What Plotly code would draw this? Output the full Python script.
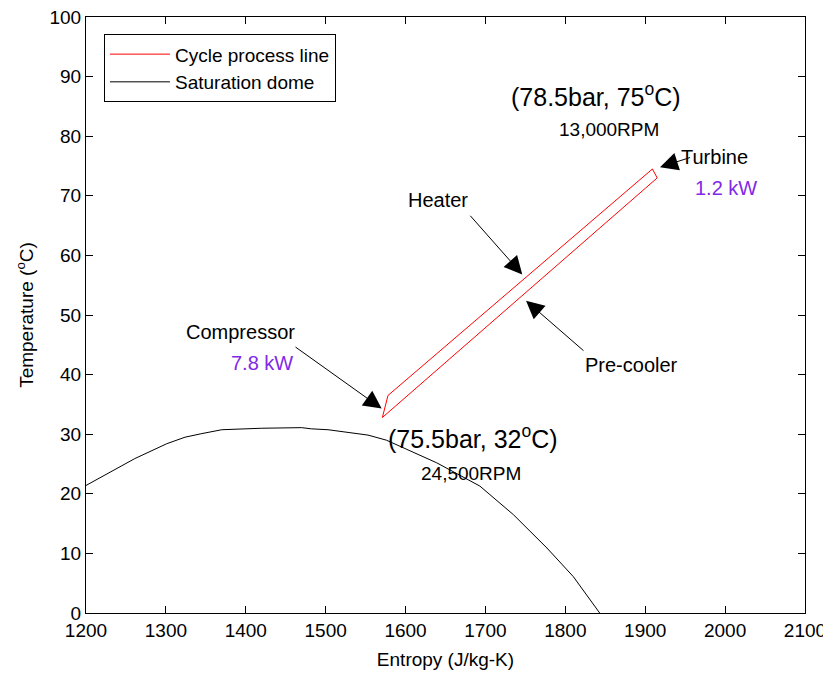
import plotly.graph_objects as go

# Cycle process line (closed loop)
cycle_s = [1571, 1578, 1909, 1915, 1571]
cycle_T = [32.8, 36.5, 74.5, 73.0, 32.8]

# Saturation dome
dome_s = [1200, 1240, 1261, 1301, 1324, 1345, 1370, 1420, 1470, 1482, 1503, 1528, 1553,
          1576, 1639, 1693, 1735, 1777, 1810, 1843]
dome_T = [21.4, 24.4, 25.9, 28.4, 29.5, 30.1, 30.75, 31.0, 31.1, 30.9, 30.75, 30.3, 29.85,
          29.0, 25.2, 21.3, 16.5, 10.9, 6.1, 0.0]

x_ticks = [1200, 1300, 1400, 1500, 1600, 1700, 1800, 1900, 2000, 2100]
y_ticks = [0, 10, 20, 30, 40, 50, 60, 70, 80, 90, 100]

FONT = "Liberation Sans, Arial, sans-serif"
PURPLE = "#7F2AE6"

fig = go.Figure()
fig.add_trace(go.Scatter(x=cycle_s, y=cycle_T, mode="lines", name="Cycle process line",
                         line=dict(color="#FF0000", width=1)))
fig.add_trace(go.Scatter(x=dome_s, y=dome_T, mode="lines", name="Saturation dome",
                         line=dict(color="#000000", width=1)))

# arrows: (head_s, head_T, tail_s, tail_T)
arrows = [
    (1570.1, 34.3, 1460.4, 44.8),
    (1746.1, 56.8, 1679.4, 66.9),
    (1750.8, 52.4, 1824.6, 43.8),
    (1918.5, 74.8, 1958.0, 76.5),
]
for hs, hT, ts, tT in arrows:
    fig.add_annotation(x=hs, y=hT, ax=ts, ay=tT, xref="x", yref="y", axref="x", ayref="y",
                       text="", showarrow=True, arrowhead=2, arrowsize=3.6, arrowwidth=1,
                       arrowcolor="black")

# text labels: (text, s, T, size, color)
labels = [
    ("Compressor", 1394, 47.2, 20, "black"),
    ("7.8 kW", 1420, 42.0, 20, PURPLE),
    ("Heater", 1640, 69.3, 20, "black"),
    ("Pre-cooler", 1883, 41.6, 20, "black"),
    ("Turbine", 1987, 76.5, 20, "black"),
    ("1.2 kW", 2001, 71.3, 20, PURPLE),
    ("(78.5bar, 75<sup>o</sup>C)", 1838, 86.9, 25, "black"),
    ("13,000RPM", 1855, 81.2, 19, "black"),
    ("(75.5bar, 32<sup>o</sup>C)", 1684, 29.6, 25, "black"),
    ("24,500RPM", 1682, 23.4, 19, "black"),
]
for txt, s, T, size, col in labels:
    fig.add_annotation(x=s, y=T, xref="x", yref="y", text=txt, showarrow=False,
                       font=dict(family=FONT, size=size, color=col))

axis_common = dict(showline=True, linecolor="black", linewidth=1, mirror="allticks",
                   ticks="inside", ticklen=7, tickcolor="black", showgrid=False,
                   zeroline=False, ticklabeloverflow="allow", automargin=False,
                   tickfont=dict(family=FONT, size=19, color="black"))

fig.update_layout(
    width=823, height=676,
    margin=dict(l=86, r=18, t=17, b=63),
    paper_bgcolor="white", plot_bgcolor="white",
    font=dict(family=FONT, color="black"),
    xaxis=dict(range=[1200, 2100], tickvals=x_ticks,
               title=dict(text="Entropy (J/kg-K)", font=dict(family=FONT, size=19), standoff=12),
               **axis_common),
    yaxis=dict(range=[0, 100], tickvals=y_ticks,
               title=dict(text="Temperature (<sup>o</sup>C)", font=dict(family=FONT, size=19), standoff=10),
               **axis_common),
    legend=dict(x=0.025, y=0.971, xanchor="left", yanchor="top", bgcolor="white",
                bordercolor="black", borderwidth=1, itemwidth=60,
                font=dict(family=FONT, size=19, color="black"), tracegroupgap=0),
    showlegend=True,
)

fig.write_html("out.html")
